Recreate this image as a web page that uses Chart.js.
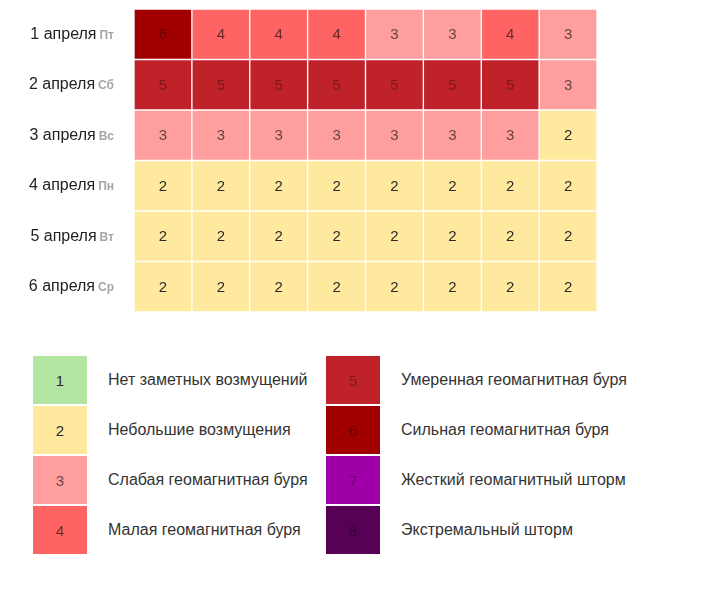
<!DOCTYPE html>
<html>
<head>
<meta charset="utf-8">
<script src="https://cdn.jsdelivr.net/npm/chart.js@4"></script>
<style>
  body { margin: 0; background: #fff; font-family: "Liberation Sans", Arial, sans-serif; }
  #wrap { position: relative; width: 727px; height: 590px; }
  #heat { position: absolute; left: 0; top: 0; }
  .legend-item { position: absolute; height: 50px; display: flex; align-items: center; }
  .swatch { width: 54px; height: 48px; display: flex; align-items: center; justify-content: center;
            font-size: 15px; margin-right: 21px; }
  .legend-text { font-size: 16px; color: #333; }
</style>
</head>
<body>
<div id="wrap">
  <canvas id="heat" width="727" height="330"></canvas>
  <div id="legend"></div>
</div>
<script>
const days = ['1 апреля', '2 апреля', '3 апреля', '4 апреля', '5 апреля', '6 апреля'];
const weekdays = ['Пт', 'Сб', 'Вс', 'Пн', 'Вт', 'Ср'];

// Kp index, 8 three-hour periods per day
const apr1 = [6, 4, 4, 4, 3, 3, 4, 3];
const apr2 = [5, 5, 5, 5, 5, 5, 5, 3];
const apr3 = [3, 3, 3, 3, 3, 3, 3, 2];
const apr4 = [2, 2, 2, 2, 2, 2, 2, 2];
const apr5 = [2, 2, 2, 2, 2, 2, 2, 2];
const apr6 = [2, 2, 2, 2, 2, 2, 2, 2];
const rows = [apr1, apr2, apr3, apr4, apr5, apr6];

const levels = [1, 2, 3, 4, 5, 6, 7, 8];
const levelNames = [
  'Нет заметных возмущений',
  'Небольшие возмущения',
  'Слабая геомагнитная буря',
  'Малая геомагнитная буря',
  'Умеренная геомагнитная буря',
  'Сильная геомагнитная буря',
  'Жесткий геомагнитный шторм',
  'Экстремальный шторм'
];

const palette = ['#b3e6a2', '#fee99e', '#fe9e9e', '#fe6464', '#c0222a', '#a00000', '#a000a8', '#560056'];

function colorFor(v) { return palette[v - 1]; }
function textFor(v) {
  if (v <= 2) return '#2a2a2a';
  if (v <= 4) return 'rgba(0,0,0,0.6)';
  return 'rgba(0,0,0,0.35)';
}

const datasets = apr1.map((_, col) => ({
  label: 'period ' + (col + 1),
  data: rows.map(() => 1),
  kp: rows.map(r => r[col]),
  backgroundColor: rows.map(r => colorFor(r[col])),
  borderColor: '#fff',
  borderWidth: 1,
  borderSkipped: false,
  categoryPercentage: 1,
  barPercentage: 1
}));

const cellText = {
  id: 'cellText',
  afterDatasetsDraw(chart) {
    const ctx = chart.ctx;
    ctx.save();
    ctx.font = '15px "Liberation Sans", Arial, sans-serif';
    ctx.textAlign = 'center';
    ctx.textBaseline = 'middle';
    chart.data.datasets.forEach((ds, i) => {
      chart.getDatasetMeta(i).data.forEach((bar, j) => {
        const p = bar.getCenterPoint();
        ctx.fillStyle = textFor(ds.kp[j]);
        ctx.fillText(ds.kp[j], p.x, p.y + 1);
      });
    });
    ctx.restore();
  }
};

const dayLabels = {
  id: 'dayLabels',
  afterDraw(chart) {
    const ctx = chart.ctx;
    const y = chart.scales.y;
    const right = chart.chartArea.left - 20;
    const dayFont = '16px "Liberation Sans", Arial, sans-serif';
    const wdFont = 'bold 12px "Liberation Sans", Arial, sans-serif';
    ctx.save();
    ctx.textBaseline = 'middle';
    ctx.textAlign = 'left';
    days.forEach((d, i) => {
      const py = y.getPixelForValue(i);
      ctx.font = wdFont;
      const wd = ctx.measureText(weekdays[i]).width;
      ctx.font = dayFont;
      const dw = ctx.measureText(d).width + 3;
      const x0 = right - wd - dw;
      ctx.fillStyle = '#222';
      ctx.fillText(d, x0, py);
      ctx.font = wdFont;
      ctx.fillStyle = '#a6a6a6';
      ctx.fillText(weekdays[i], x0 + dw, py + 1);
    });
    ctx.restore();
  }
};

new Chart(document.getElementById('heat'), {
  type: 'bar',
  data: { labels: days, datasets },
  options: {
    indexAxis: 'y',
    responsive: false,
    animation: false,
    layout: { padding: { left: 134, right: 130, top: 9, bottom: 18 } },
    plugins: { legend: { display: false }, tooltip: { enabled: false } },
    scales: {
      x: { stacked: true, min: 0, max: 8, display: false },
      y: { stacked: true, display: false }
    }
  },
  plugins: [cellText, dayLabels]
});

// legend: two columns of four
const legend = document.getElementById('legend');
levels.forEach((lv, i) => {
  const item = document.createElement('div');
  item.className = 'legend-item';
  item.style.left = (i < 4 ? 33 : 326) + 'px';
  item.style.top = (355 + (i % 4) * 50) + 'px';
  const sw = document.createElement('div');
  sw.className = 'swatch';
  sw.style.background = colorFor(lv);
  sw.style.color = textFor(lv);
  sw.textContent = lv;
  const tx = document.createElement('div');
  tx.className = 'legend-text';
  tx.textContent = levelNames[i];
  item.appendChild(sw);
  item.appendChild(tx);
  legend.appendChild(item);
});
</script>
</body>
</html>
